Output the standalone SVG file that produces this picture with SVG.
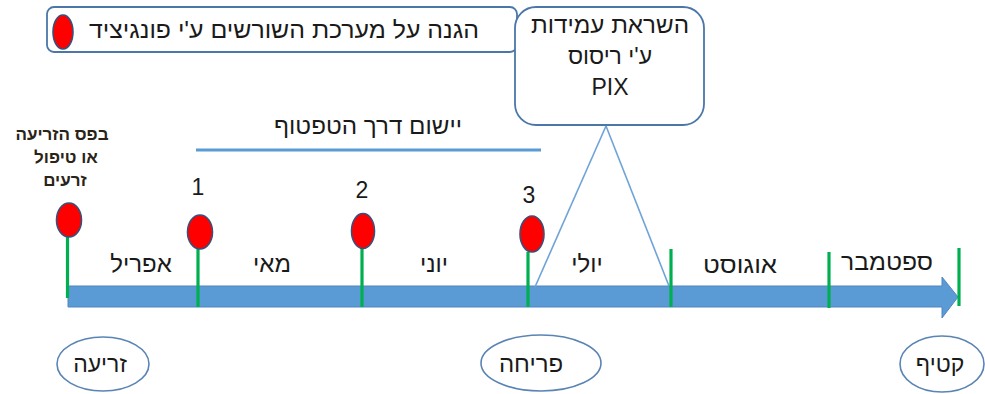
<svg xmlns="http://www.w3.org/2000/svg" width="985" height="394" viewBox="0 0 985 394">
<style>
text{font-family:"Liberation Sans","DejaVu Sans",sans-serif;fill:#1a1a1a;text-anchor:middle}
.lbl{font-size:23px}
.mon{font-size:24px}
.num{font-size:23px}
.small{font-size:17px;font-weight:bold;fill:#2a2418}
.box{fill:#fff;stroke:#4a77a8;stroke-width:1.8}
.dot{fill:#ff0000;stroke:#3b4f7a;stroke-width:1.6}
.tick{stroke:#00b050;stroke-width:3.2}
.thin{stroke:#6fa3d8;stroke-width:1.6;fill:none}
.oval{fill:#fff;stroke:#5a84b4;stroke-width:1.6}
</style>
<rect width="985" height="394" fill="#fff"/>

<g id="legend">
<rect class="box" x="47" y="7" width="470" height="45" rx="7"/>
<ellipse class="dot" cx="63" cy="32" rx="10" ry="17"/>
<text x="284" y="38" font-size="24" textLength="390" lengthAdjust="spacingAndGlyphs">הגנה על מערכת השורשים ע'י פונגיציד</text>
</g>

<g id="pix-box">
<rect class="box" x="515" y="7" width="189" height="118" rx="21"/>
<text class="lbl" x="610" y="33" textLength="158" lengthAdjust="spacingAndGlyphs">השראת עמידות</text>
<text class="lbl" x="610" y="64">ע'י ריסוס</text>
<text class="lbl" x="610" y="95">PIX</text>
</g>

<g id="timeline">
<path d="M68 286 H942 V277 L958 297 L942 318 V307 H68 Z" fill="#5b9bd5" stroke="#4f86bf" stroke-width="1"/>
</g>

<g id="connectors">
<line class="thin" x1="606" y1="126" x2="535" y2="287"/>
<line class="thin" x1="606" y1="126" x2="669" y2="286"/>
<line x1="196" y1="150" x2="541" y2="150" stroke="#5b9bd5" stroke-width="3"/>
<line class="tick" x1="67.5" y1="237" x2="67.5" y2="298"/>
<line class="tick" x1="198" y1="249" x2="198" y2="307"/>
<line class="tick" x1="362" y1="248" x2="362" y2="307"/>
<line class="tick" x1="528" y1="252" x2="528" y2="307"/>
<line class="tick" x1="671" y1="249" x2="671" y2="307"/>
<line class="tick" x1="829" y1="252" x2="829" y2="308"/>
<line class="tick" x1="959" y1="248" x2="959" y2="306"/>
</g>

<g id="drip-label">
<text class="lbl" x="368" y="134" textLength="188" lengthAdjust="spacingAndGlyphs">יישום דרך הטפטוף</text>
</g>

<g id="seed-treatment">
<text class="small" x="62" y="140">בפס הזריעה</text>
<text class="small" x="66" y="163">או טיפול</text>
<text class="small" x="65" y="186">זרעים</text>
<ellipse class="dot" cx="69" cy="220" rx="12.5" ry="17"/>
</g>

<g id="app1">
<text class="num" x="198" y="195">1</text>
<ellipse class="dot" cx="200" cy="232" rx="12.5" ry="17"/>
</g>
<g id="app2">
<text class="num" x="362" y="198">2</text>
<ellipse class="dot" cx="363" cy="231" rx="11.5" ry="17.5"/>
</g>
<g id="app3">
<text class="num" x="529" y="203">3</text>
<ellipse class="dot" cx="532" cy="234" rx="12" ry="18"/>
</g>

<g id="months">
<text class="mon" x="141" y="272">אפריל</text>
<text class="mon" x="272" y="272">מאי</text>
<text class="mon" x="434" y="272">יוני</text>
<text class="mon" x="587" y="272">יולי</text>
<text class="mon" x="740" y="273" textLength="74" lengthAdjust="spacingAndGlyphs">אוגוסט</text>
<text class="mon" x="887" y="270" textLength="92" lengthAdjust="spacingAndGlyphs">ספטמבר</text>
</g>

<g id="sowing">
<ellipse class="oval" cx="103" cy="364" rx="46" ry="27"/>
<text class="lbl" x="100" y="372">זריעה</text>
</g>
<g id="flowering">
<ellipse class="oval" cx="541" cy="363" rx="60" ry="28"/>
<text class="mon" x="531" y="372">פריחה</text>
</g>
<g id="harvest">
<ellipse class="oval" cx="942" cy="364" rx="42" ry="28"/>
<text class="lbl" x="940" y="372">קטיף</text>
</g>
</svg>
